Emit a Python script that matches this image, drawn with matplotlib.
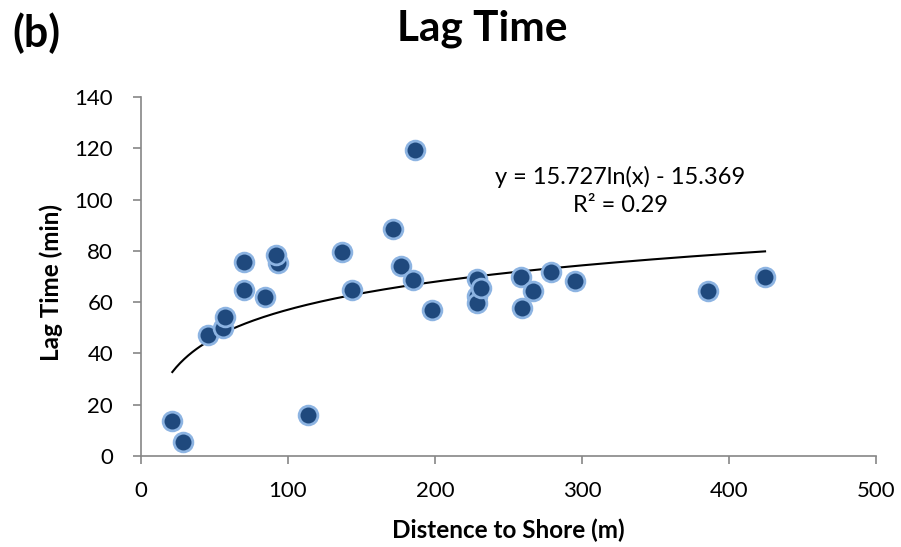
import numpy as np
import matplotlib
matplotlib.use("Agg")
import matplotlib.pyplot as plt

plt.rcParams['font.family'] = ['Lato', 'DejaVu Sans']

distance = [21.3, 28.3, 45.8, 55.5, 57.1, 70.3, 70.3, 84.6, 93.0, 92.1,
            113.6, 137.0, 143.8, 171.6, 176.9, 186.4, 185.3, 198.2,
            228.8, 228.8, 228.8, 231.3, 258.5, 259.4, 266.9, 278.6, 295.2,
            385.9, 424.5]
lag_time = [13.5, 5.3, 47.3, 50.0, 54.3, 64.6, 75.8, 61.9, 75.1, 78.5,
            15.9, 79.4, 64.6, 88.4, 74.0, 119.3, 68.8, 56.8,
            69.0, 62.5, 59.5, 65.7, 69.9, 57.6, 64.3, 71.9, 68.3,
            64.5, 69.9]
fit_a, fit_b = 15.727, -15.369
x_ticks = [0, 100, 200, 300, 400, 500]
y_ticks = [0, 20, 40, 60, 80, 100, 120, 140]

fig = plt.figure(figsize=(9.01, 5.47), dpi=100)
ax = fig.add_axes([0.1565, 0.1664, 0.8158, 0.6563])

xs = np.linspace(min(distance), max(distance), 300)
ax.plot(xs, fit_a * np.log(xs) + fit_b, color='black', lw=1.5, zorder=2)
ax.plot(distance, lag_time, 'o', ms=13.5, mfc='#1F497D', mec='#8DB4E2',
        mew=2, zorder=3, clip_on=False)

ax.set_xlim(0, 500)
ax.set_ylim(0, 140)
ax.set_xticks(x_ticks)
ax.set_yticks(y_ticks)
for s in ['top', 'right']:
    ax.spines[s].set_visible(False)
for s in ['left', 'bottom']:
    ax.spines[s].set_color('#868686')
    ax.spines[s].set_linewidth(1.2)
ax.tick_params(axis='x', colors='#868686', length=6, width=1.2, labelcolor='black',
               labelsize=16, pad=12)
ax.tick_params(axis='y', colors='#868686', length=6, width=1.2, labelcolor='black',
               labelsize=16, pad=14)

ax.set_xlabel('Distence to Shore (m)', fontsize=17.5, fontweight='bold')
ax.xaxis.set_label_coords((508 - 141) / 735, (456 - 530) / 359)
ax.set_ylabel('Lag Time (min)', fontsize=17.5, fontweight='bold')
ax.yaxis.set_label_coords((51 - 141) / 735, (456 - 283) / 359)
ax.xaxis.label.set_va('center')
ax.yaxis.label.set_va('center')

fig.text(482 / 901, 1 - 40 / 547, 'Lag Time', fontsize=30.5, fontweight='bold',
         ha='center', va='baseline')
fig.text(12 / 901, 1 - 33 / 547, '(b)', fontsize=31, fontweight='bold',
         ha='left', va='center')

ax.text(326, 103.4, 'y = 15.727ln(x) - 15.369\nR² = 0.29', fontsize=17,
        ha='center', va='center', linespacing=1.4)

fig.savefig('out.png', dpi=100)
